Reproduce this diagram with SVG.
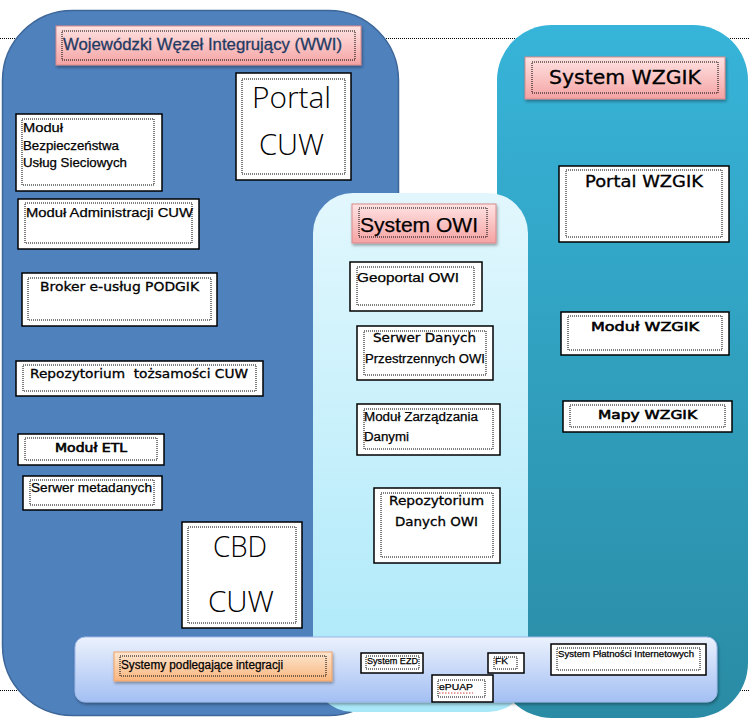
<svg xmlns="http://www.w3.org/2000/svg" width="750" height="720" viewBox="0 0 750 720">
<defs>
<linearGradient id="gWz" x1="0" y1="0" x2="0" y2="1"><stop offset="0" stop-color="#37b4d9"/><stop offset="1" stop-color="#2a8ba4"/></linearGradient>
<linearGradient id="gOwi" x1="0" y1="0" x2="0" y2="1"><stop offset="0" stop-color="#e2f7fd"/><stop offset="1" stop-color="#a9e8f9"/></linearGradient>
<linearGradient id="gBar" x1="0" y1="0" x2="0" y2="1"><stop offset="0" stop-color="#ecf2fd"/><stop offset="1" stop-color="#a3bff3"/></linearGradient>
<linearGradient id="gPink" x1="0" y1="0" x2="0" y2="1"><stop offset="0" stop-color="#ffe3e3"/><stop offset="1" stop-color="#f5a3a3"/></linearGradient>
<linearGradient id="gOr" x1="0" y1="0" x2="0" y2="1"><stop offset="0" stop-color="#fde6d0"/><stop offset="1" stop-color="#f9b67e"/></linearGradient>
<filter id="sh" x="-10%" y="-20%" width="120%" height="150%"><feDropShadow dx="1" dy="2" stdDeviation="1.5" flood-color="#000" flood-opacity="0.35"/></filter>
</defs>
<style>
.box{fill:#fff;stroke:#000;stroke-width:1.5}
.dot{fill:none;stroke:#000;stroke-width:1;stroke-dasharray:1 1}
.pink{fill:url(#gPink);stroke:#d88a8a;stroke-width:1}
.v{font-family:"DejaVu Sans","Liberation Sans",sans-serif;fill:#000;stroke:#000;stroke-width:0.3}
.vb{stroke-width:0.6}
.c{font-family:"Liberation Sans","Open Sans",sans-serif;fill:#000;stroke:#000;stroke-width:0.25}
.big{font-family:"Open Sans","Liberation Sans",sans-serif;font-weight:300;font-size:30px;fill:#000}
.hl{stroke:#000;stroke-width:1;stroke-dasharray:1 1}
</style>
<line class="hl" x1="0" y1="38.5" x2="750" y2="38.5"/>
<line class="hl" x1="0" y1="690.5" x2="750" y2="690.5"/>

<g id="wwi">
<rect x="2.5" y="10.5" width="396" height="705" rx="70" fill="#4f81bd" stroke="#3d6699" stroke-width="1.5"/>
</g>
<g id="wzgik">
<rect x="497" y="25" width="251" height="693" rx="55" fill="url(#gWz)"/>
</g>
<g id="owi">
<rect x="313" y="193" width="215" height="519" rx="40" fill="url(#gOwi)"/>
</g>

<g id="wwi-title">
<rect class="pink" x="56" y="26" width="305" height="39" filter="url(#sh)"/>
<rect class="dot" x="62" y="31" width="293" height="29"/>
<text x="63" y="50" font-family="Liberation Sans,sans-serif" font-size="17" fill="#1f3b63" stroke="#1f3b63" stroke-width="0.3" textLength="279" lengthAdjust="spacingAndGlyphs">Wojewódzki Węzeł Integrujący (WWI)</text>
</g>
<g id="portal-cuw">
<rect class="box" x="236" y="73" width="115" height="107"/>
<rect class="dot" x="242" y="79" width="103" height="95"/>
<text class="big" x="291.5" y="108" text-anchor="middle" textLength="79" lengthAdjust="spacingAndGlyphs">Portal</text>
<text class="big" x="291.5" y="155" text-anchor="middle" textLength="65" lengthAdjust="spacingAndGlyphs">CUW</text>
</g>
<g id="modul-bezp">
<rect class="box" x="16" y="114" width="146" height="77"/>
<rect class="dot" x="22" y="119" width="132" height="66"/>
<text class="c" x="23" y="132" font-size="12.5" textLength="40" lengthAdjust="spacingAndGlyphs">Moduł</text>
<text class="c" x="23" y="150" font-size="12.5" textLength="96" lengthAdjust="spacingAndGlyphs">Bezpieczeństwa</text>
<text class="c" x="23" y="167" font-size="12.5" textLength="104" lengthAdjust="spacingAndGlyphs">Usług Sieciowych</text>
</g>
<g id="modul-admin">
<rect class="box" x="18" y="199" width="181" height="50"/>
<rect class="dot" x="25" y="203" width="167" height="40"/>
<text class="c" x="26" y="217" font-size="13" textLength="167" lengthAdjust="spacingAndGlyphs">Moduł Administracji CUW</text>
</g>
<g id="broker">
<rect class="box" x="22" y="273" width="195" height="53"/>
<rect class="dot" x="28" y="278" width="183" height="42"/>
<text class="v" x="40" y="291" font-size="12" textLength="159" lengthAdjust="spacingAndGlyphs">Broker e-usług PODGIK</text>
</g>
<g id="repo-cuw">
<rect class="box" x="16" y="361" width="247" height="35"/>
<rect class="dot" x="23" y="365" width="233" height="26"/>
<text class="v" x="30" y="378" font-size="12" textLength="218" lengthAdjust="spacingAndGlyphs" xml:space="preserve">Repozytorium  tożsamości CUW</text>
</g>
<g id="modul-etl">
<rect class="box" x="18" y="434" width="146" height="31"/>
<rect class="dot" x="25" y="438" width="132" height="22"/>
<text class="v vb" x="55" y="452" font-size="12" textLength="72" lengthAdjust="spacingAndGlyphs">Moduł ETL</text>
</g>
<g id="serwer-meta">
<rect class="box" x="23" y="476" width="139" height="34"/>
<rect class="dot" x="30" y="480" width="124" height="25"/>
<text class="c" x="31" y="492" font-size="12.5" textLength="121" lengthAdjust="spacingAndGlyphs">Serwer metadanych</text>
</g>
<g id="cbd-cuw">
<rect class="box" x="182" y="522" width="120" height="106"/>
<rect class="dot" x="188" y="527" width="108" height="96"/>
<text class="big" x="240" y="557" text-anchor="middle" textLength="54" lengthAdjust="spacingAndGlyphs">CBD</text>
<text class="big" x="241" y="612" text-anchor="middle" textLength="66" lengthAdjust="spacingAndGlyphs">CUW</text>
</g>

<g id="owi-title">
<rect class="pink" x="352" y="204" width="144" height="39" filter="url(#sh)"/>
<rect class="dot" x="359" y="208" width="128" height="29"/>
<text class="c" x="360" y="232" font-size="21" textLength="118" lengthAdjust="spacingAndGlyphs">System OWI</text>
</g>
<g id="geoportal-owi">
<rect class="box" x="350" y="262" width="132" height="49"/>
<rect class="dot" x="357" y="267" width="117" height="38"/>
<text class="c" x="357" y="282" font-size="13" textLength="102" lengthAdjust="spacingAndGlyphs">Geoportal OWI</text>
</g>
<g id="serwer-owi">
<rect class="box" x="357" y="326" width="136" height="54"/>
<rect class="dot" x="364" y="331" width="122" height="44"/>
<text class="v" x="373" y="342" font-size="12" textLength="103" lengthAdjust="spacingAndGlyphs">Serwer Danych</text>
<text class="c" x="365" y="363" font-size="12.5" textLength="120" lengthAdjust="spacingAndGlyphs">Przestrzennych OWI</text>
</g>
<g id="modul-zarz">
<rect class="box" x="357" y="404" width="143" height="51"/>
<rect class="dot" x="364" y="409" width="129" height="40"/>
<text class="c" x="364" y="421" font-size="12.5" textLength="114" lengthAdjust="spacingAndGlyphs">Moduł Zarządzania</text>
<text class="c" x="364" y="441" font-size="12.5" textLength="45" lengthAdjust="spacingAndGlyphs">Danymi</text>
</g>
<g id="repo-owi">
<rect class="box" x="374" y="488" width="126" height="75"/>
<rect class="dot" x="381" y="493" width="112" height="64"/>
<text class="v" x="389" y="505" font-size="12" textLength="95" lengthAdjust="spacingAndGlyphs">Repozytorium</text>
<text class="v" x="395" y="526" font-size="12" textLength="83" lengthAdjust="spacingAndGlyphs">Danych OWI</text>
</g>

<g id="wzgik-title">
<rect class="pink" x="525" y="57" width="200" height="42" filter="url(#sh)"/>
<rect class="dot" x="532" y="62" width="186" height="31"/>
<text class="v" x="549" y="84" font-size="20" textLength="152" lengthAdjust="spacingAndGlyphs">System WZGIK</text>
</g>
<g id="portal-wzgik">
<rect class="box" x="559" y="166" width="170" height="76"/>
<rect class="dot" x="566" y="170" width="156" height="67"/>
<text class="v" x="585" y="187" font-size="15" textLength="118" lengthAdjust="spacingAndGlyphs">Portal WZGIK</text>
</g>
<g id="modul-wzgik">
<rect class="box" x="561" y="312" width="168" height="43"/>
<rect class="dot" x="568" y="316" width="154" height="34"/>
<text class="v vb" x="591" y="331" font-size="13" textLength="108" lengthAdjust="spacingAndGlyphs">Moduł WZGIK</text>
</g>
<g id="mapy-wzgik">
<rect class="box" x="563" y="401" width="169" height="31"/>
<rect class="dot" x="570" y="405" width="155" height="22"/>
<text class="v vb" x="598" y="419" font-size="13" textLength="99" lengthAdjust="spacingAndGlyphs">Mapy WZGIK</text>
</g>

<g id="integration-bar">
<rect x="75" y="637" width="642" height="65" rx="10" fill="url(#gBar)" stroke="#9db8e8" stroke-width="1" filter="url(#sh)"/>
</g>
<g id="systemy">
<rect x="114" y="652" width="218" height="29" fill="url(#gOr)" stroke="#f0a36a" stroke-width="1" filter="url(#sh)"/>
<rect class="dot" x="120" y="656" width="206" height="20"/>
<text class="c" x="121" y="669" font-size="12" textLength="162" lengthAdjust="spacingAndGlyphs">Systemy podlegające integracji</text>
</g>
<g id="system-ezd">
<rect class="box" x="361" y="653" width="62" height="20"/>
<rect class="dot" x="366" y="656" width="53" height="13"/>
<text class="c" x="367" y="664" font-size="9" textLength="51" lengthAdjust="spacingAndGlyphs">System EZD</text>
</g>
<g id="fk">
<rect class="box" x="488" y="653" width="36" height="20"/>
<rect class="dot" x="494" y="657" width="23" height="12"/>
<text class="c" x="495" y="664" font-size="9" textLength="13" lengthAdjust="spacingAndGlyphs">FK</text>
</g>
<g id="epuap">
<rect class="box" x="432" y="675" width="61" height="27"/>
<rect class="dot" x="438" y="680" width="47" height="17"/>
<text class="c" x="439" y="690" font-size="9" textLength="34" lengthAdjust="spacingAndGlyphs">ePUAP</text>
<line x1="439" y1="693" x2="473" y2="693" stroke="#d04040" stroke-width="1" stroke-dasharray="1.5 1.5"/>
</g>
<g id="platnosci">
<rect class="box" x="551" y="644" width="155" height="31"/>
<rect class="dot" x="557" y="648" width="143" height="22"/>
<text class="c" x="558" y="657" font-size="9" textLength="136" lengthAdjust="spacingAndGlyphs">System Płatności Internetowych</text>
</g>
<g id="connectors"/>
</svg>
